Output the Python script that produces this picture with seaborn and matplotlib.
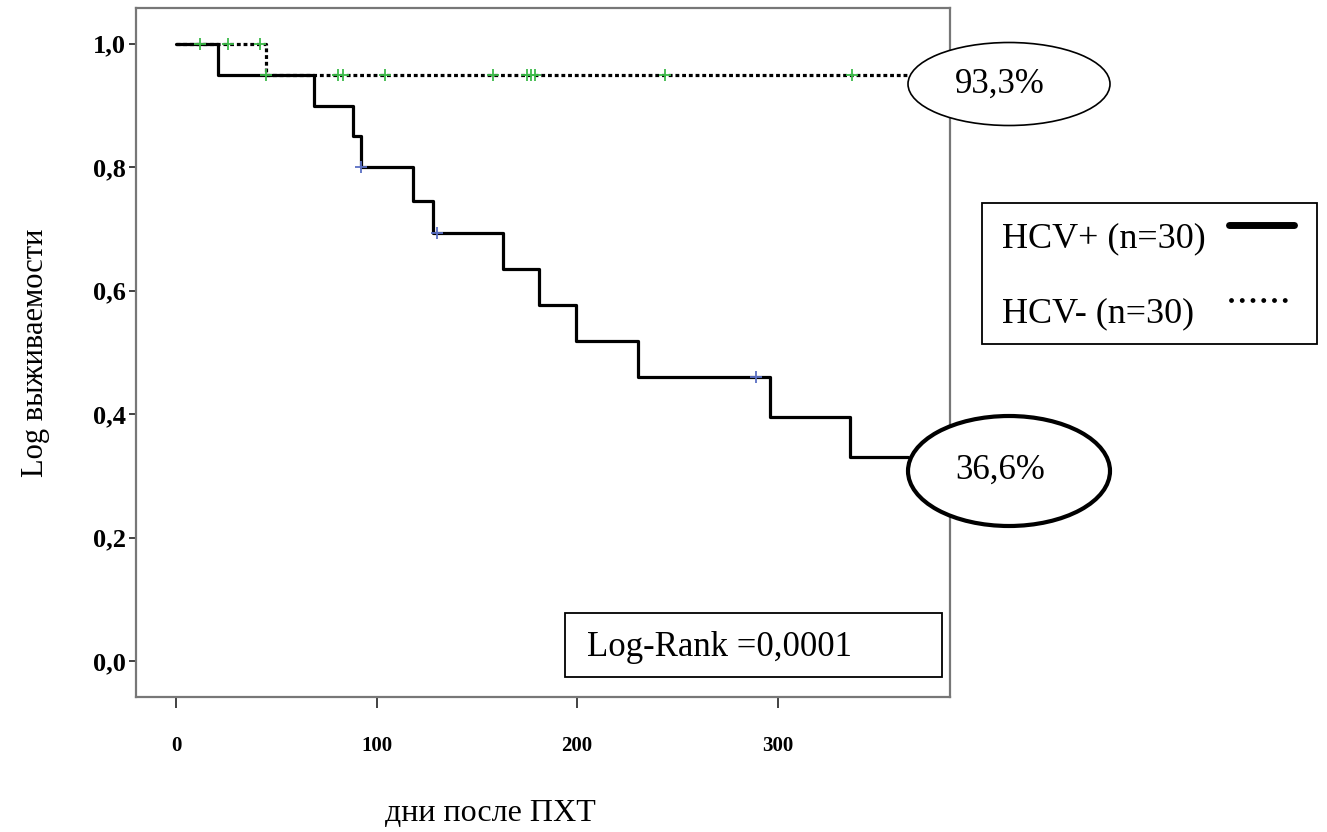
import numpy as np
import pandas as pd
import matplotlib
matplotlib.use('Agg')
import matplotlib.pyplot as plt
import seaborn as sns
from matplotlib.patches import Ellipse, Rectangle
from matplotlib.lines import Line2D

# HCV+ : step times (days) and survival after each step
pos_times = [0, 21, 69, 88, 92, 118, 128, 163, 181, 199.5, 230.5, 296, 336, 365]
pos_surv = [1.0, 0.95, 0.90, 0.85, 0.80, 0.746, 0.694, 0.635, 0.577, 0.519, 0.461, 0.396, 0.330, 0.330]
pos_censored = [92, 130, 289]

# HCV- : step times and survival
neg_times = [0, 45, 365]
neg_surv = [1.0, 0.95, 0.95]
neg_censored = [12, 26, 42, 45, 81, 83, 104, 158, 175, 177, 179, 244, 337]

x_ticks = [0, 100, 200, 300]
y_ticks = [0.0, 0.2, 0.4, 0.6, 0.8, 1.0]
y_tick_labels = ['0,0', '0,2', '0,4', '0,6', '0,8', '1,0']

pos_label = 'HCV+ (n=30)'
neg_label = 'HCV- (n=30)'
pos_final = '36,6%'
neg_final = '93,3%'
logrank_text = 'Log-Rank =0,0001'


def censor_levels(times, surv, cens):
    idx = np.searchsorted(times, cens, side='right') - 1
    return np.array(surv)[idx]


df_pos = pd.DataFrame({'time': pos_times, 'surv': pos_surv})
df_neg = pd.DataFrame({'time': neg_times, 'surv': neg_surv})
df_pos_c = pd.DataFrame({'time': pos_censored, 'surv': censor_levels(pos_times, pos_surv, pos_censored)})
df_neg_c = pd.DataFrame({'time': neg_censored, 'surv': censor_levels(neg_times, neg_surv, neg_censored)})

sns.set_style('ticks')
plt.rcParams['font.family'] = ['Liberation Serif', 'DejaVu Serif']
plt.rcParams['text.color'] = 'black'
plt.rcParams['axes.labelcolor'] = 'black'
plt.rcParams['xtick.labelcolor'] = 'black'
plt.rcParams['ytick.labelcolor'] = 'black'

W, H = 1327, 832
fig = plt.figure(figsize=(W / 100, H / 100), dpi=100)
ax = fig.add_axes([136 / W, 1 - 697 / H, (950 - 136) / W, (697 - 8) / H])

sns.lineplot(data=df_neg, x='time', y='surv', ax=ax, estimator=None, drawstyle='steps-post',
             color='black', linewidth=2.3, linestyle=(0, (1.2, 0.9)))
sns.lineplot(data=df_pos, x='time', y='surv', ax=ax, estimator=None, drawstyle='steps-post',
             color='black', linewidth=2.3)
sns.scatterplot(data=df_neg_c, x='time', y='surv', ax=ax, marker='+', s=70, color='#3dbb4a',
                linewidth=1.3, zorder=5)
sns.scatterplot(data=df_pos_c, x='time', y='surv', ax=ax, marker='+', s=70, color='#5a6fc4',
                linewidth=1.3, zorder=5)

ax.set_xlim(-20, 386)
ax.set_ylim(-0.058, 1.058)
ax.set_xticks(x_ticks)
ax.set_xticklabels([str(t) for t in x_ticks], fontsize=15, fontweight='bold')
ax.set_yticks(y_ticks)
ax.set_yticklabels(y_tick_labels, fontsize=19, fontweight='bold')
ax.tick_params(axis='x', length=8, width=1.3, pad=20, color='#333333')
ax.tick_params(axis='y', length=5, width=1.3, pad=2, color='#333333')
for s in ax.spines.values():
    s.set_visible(True)
    s.set_color('#777777')
    s.set_linewidth(1.6)

ax.set_xlabel('дни после ПХТ', fontsize=23)
ax.set_ylabel('Log выживаемости', fontsize=22)
ax.xaxis.set_label_coords(0.435, -0.148)
ax.yaxis.set_label_coords(-0.106, 0.5)

# annotation ellipses
fig.add_artist(Ellipse((1009 / W, 1 - 84 / H), 202 / W, 83 / H, transform=fig.transFigure,
                       facecolor='white', edgecolor='black', linewidth=1.2, zorder=10))
fig.text(1000 / W, 1 - 84 / H, neg_final, fontsize=25, ha='center', va='center', zorder=11)
fig.add_artist(Ellipse((1009 / W, 1 - 471 / H), 202 / W, 110 / H, transform=fig.transFigure,
                       facecolor='white', edgecolor='black', linewidth=3, zorder=10))
fig.text(1000 / W, 1 - 470 / H, pos_final, fontsize=25, ha='center', va='center', zorder=11)

# legend box
fig.add_artist(Rectangle((982 / W, 1 - 344 / H), 335 / W, 141 / H, transform=fig.transFigure,
                         facecolor='white', edgecolor='black', linewidth=1.3))
fig.text(1002 / W, 1 - 239 / H, pos_label, fontsize=26, ha='left', va='center')
fig.text(1002 / W, 1 - 314 / H, neg_label, fontsize=26, ha='left', va='center')
fig.add_artist(Line2D([1229 / W, 1294 / W], [1 - 225 / H, 1 - 225 / H], transform=fig.transFigure,
                      color='black', linewidth=5))
fig.add_artist(Line2D([1231 / W, 1294 / W], [1 - 300 / H, 1 - 300 / H], transform=fig.transFigure,
                      color='black', linewidth=3.5, linestyle=(0, (0.01, 2.2)), dash_capstyle='round'))

# log-rank box
fig.add_artist(Rectangle((565 / W, 1 - 677 / H), 377 / W, 64 / H, transform=fig.transFigure,
                         facecolor='white', edgecolor='black', linewidth=1.3, zorder=10))
fig.text(587 / W, 1 - 647 / H, logrank_text, fontsize=25, ha='left', va='center', zorder=11)

fig.savefig('out.png', dpi=100)
